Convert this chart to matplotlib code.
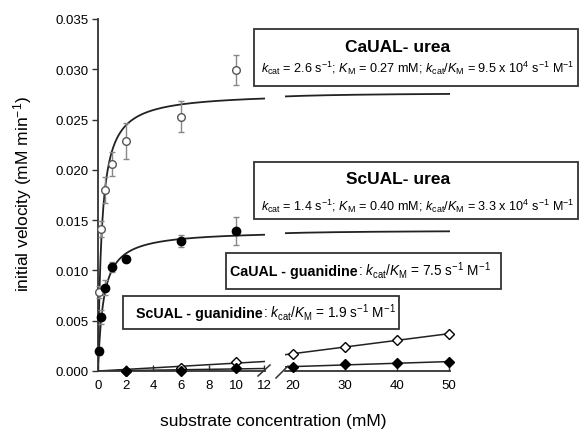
import numpy as np
import matplotlib
matplotlib.use('Agg')
import matplotlib.pyplot as plt
from matplotlib.patches import Rectangle
from matplotlib.ticker import FormatStrFormatter

plt.rcParams['font.family'] = ['Liberation Sans', 'DejaVu Sans']
plt.rcParams['mathtext.fontset'] = 'custom'
plt.rcParams['mathtext.rm'] = 'Liberation Sans'
plt.rcParams['mathtext.it'] = 'Liberation Sans:italic'
plt.rcParams['mathtext.bf'] = 'Liberation Sans:bold'

# ---------------- data ----------------
urea_x = [0.1, 0.25, 0.5, 1, 2, 6, 10]
ca_urea_v = [0.0079, 0.0141, 0.0180, 0.0206, 0.0229, 0.0253, 0.0299]
ca_urea_err = [0.0006, 0.0008, 0.0013, 0.0012, 0.0018, 0.0015, 0.0015]
sc_urea_v = [0.0020, 0.0054, 0.0083, 0.0103, 0.0111, 0.0129, 0.0139]
sc_urea_err = [0.0004, 0.0007, 0.0007, 0.0005, 0.0003, 0.0006, 0.0014]

# Michaelis-Menten fit parameters (Vmax in mM/min, Km in mM)
ca_urea_vmax, ca_urea_km = 0.0277, 0.27
sc_urea_vmax, sc_urea_km = 0.0140, 0.40

guan_x_low = [2, 6, 10]
guan_x_high = [20, 30, 40, 50]
ca_guan_low = [0.0000, 0.00033, 0.0009]
ca_guan_high = [0.00169, 0.00242, 0.00308, 0.00368]
sc_guan_low = [0.0000, 0.00003, 0.00027]
sc_guan_high = [0.00037, 0.00070, 0.00078, 0.00090]

x_ticks_low = [0, 2, 4, 6, 8, 10, 12]
x_ticks_high = [20, 30, 40, 50]
y_ticks = [0, 0.005, 0.010, 0.015, 0.020, 0.025, 0.030, 0.035]

# ---------------- figure ----------------
W, H = 582, 431
fig = plt.figure(figsize=(W / 100, H / 100), dpi=100)
fig.patch.set_facecolor('white')

top, bot = 20, 372
ax1 = fig.add_axes([98 / W, 1 - bot / H, (265 - 98) / W, (bot - top) / H])
ax2 = fig.add_axes([285 / W, 1 - bot / H, (450 - 285) / W, (bot - top) / H])

xlim1 = (0, 12.07)
xlim2 = (18.46, 50.19)
ylim = (0, 0.035)

line_c = '#222222'
open_c = '#555555'
err_c = '#888888'

# urea fit curves
for ax, lim in ((ax1, xlim1), (ax2, xlim2)):
    xs = np.linspace(lim[0], lim[1], 600)
    ax.plot(xs, ca_urea_vmax * xs / (ca_urea_km + xs), color=line_c, lw=1.3, zorder=2)
    ax.plot(xs, sc_urea_vmax * xs / (sc_urea_km + xs), color=line_c, lw=1.3, zorder=2)

# urea data
ax1.errorbar(urea_x, ca_urea_v, yerr=ca_urea_err, fmt='o', ms=5.5, mfc='white',
             mec=open_c, mew=1.0, ecolor=err_c, elinewidth=1.0, capsize=2.5,
             capthick=1.0, zorder=4, clip_on=False)
ax1.errorbar(urea_x, sc_urea_v, yerr=sc_urea_err, fmt='o', ms=6, mfc='black',
             mec='black', ecolor=err_c, elinewidth=1.0, capsize=2.5,
             capthick=1.0, zorder=4, clip_on=False)

# guanidine linear fits
xl = np.array(guan_x_low, dtype=float)
xh = np.array(guan_x_high, dtype=float)
for low, high, mfc in ((ca_guan_low, ca_guan_high, 'white'),
                       (sc_guan_low, sc_guan_high, 'black')):
    yl = np.array(low)
    slope0 = np.sum(xl * yl) / np.sum(xl * xl)
    xs = np.linspace(xlim1[0], xlim1[1], 50)
    ax1.plot(xs, slope0 * xs, color=line_c, lw=1.1, zorder=2)
    p = np.polyfit(xh, np.array(high), 1)
    xs2 = np.linspace(xlim2[0], xlim2[1], 50)
    ax2.plot(xs2, np.polyval(p, xs2), color=line_c, lw=1.1, zorder=2)
    ax1.plot(guan_x_low, low, 'D', ms=5, mfc=mfc, mec='black', mew=1.0,
             zorder=5, clip_on=False)
    ax2.plot(guan_x_high, high, 'D', ms=5, mfc=mfc, mec='black', mew=1.0,
             zorder=5, clip_on=False)

# axes styling
for ax in (ax1, ax2):
    ax.set_ylim(*ylim)
    ax.set_facecolor('none')
    for s in ('top', 'right'):
        ax.spines[s].set_visible(False)
    ax.spines['bottom'].set_color('#333333')
    ax.spines['bottom'].set_linewidth(1.3)
    ax.tick_params(axis='x', direction='in', length=4, width=1.0,
                   color='#333333', labelsize=9.5, pad=6)

ax1.set_xlim(*xlim1)
ax2.set_xlim(*xlim2)
ax1.set_xticks(x_ticks_low)
ax2.set_xticks(x_ticks_high)
ax1.set_yticks(y_ticks)
ax1.yaxis.set_major_formatter(FormatStrFormatter('%.3f'))
ax1.spines['left'].set_color('#333333')
ax1.spines['left'].set_linewidth(1.3)
ax1.tick_params(axis='y', direction='out', length=4.5, width=1.0,
                color='#333333', labelsize=9.5, pad=2)
ax2.spines['left'].set_visible(False)
ax2.set_yticks([])

# overlay in pixel coordinates for annotations
ov = fig.add_axes([0, 0, 1, 1], zorder=10)
ov.set_xlim(0, W)
ov.set_ylim(H, 0)
ov.axis('off')
ov.patch.set_alpha(0)

# axis break marks
ov.plot([258, 270], [377, 366], color='#333333', lw=1.1)
ov.plot([276, 288], [379, 367], color='#333333', lw=1.1)

box_kw = dict(fill=True, facecolor='white', edgecolor='#333333', lw=1.3)
ov.add_patch(Rectangle((254, 30), 324, 57, **box_kw))
ov.add_patch(Rectangle((254, 163), 324, 57, **box_kw))
ov.add_patch(Rectangle((226, 254), 275, 36, **box_kw))
ov.add_patch(Rectangle((123, 297), 276, 33, **box_kw))

kcat = r'$k_{\mathrm{cat}}$'
km = r'$K_{\mathrm{M}}$'
ov.text(398, 47, 'CaUAL- urea', fontsize=12.5, fontweight='bold',
        ha='center', va='center')
ov.text(418, 68, kcat + r' = 2.6 s$^{-1}$; ' + km + r' = 0.27 mM; ' + kcat + '/' + km +
        r' = 9.5 x 10$^{4}$ s$^{-1}$ M$^{-1}$', fontsize=9.1, ha='center', va='center')
ov.text(398, 180, 'ScUAL- urea', fontsize=12.5, fontweight='bold',
        ha='center', va='center')
ov.text(418, 206, kcat + r' = 1.4 s$^{-1}$; ' + km + r' = 0.40 mM; ' + kcat + '/' + km +
        r' = 3.3 x 10$^{4}$ s$^{-1}$ M$^{-1}$', fontsize=9.1, ha='center', va='center')

ov.text(358, 276, 'CaUAL - guanidine', fontsize=10.3, fontweight='bold',
        ha='right', va='baseline')
ov.text(358, 276, ': ' + kcat + '/' + km + r' = 7.5 s$^{-1}$ M$^{-1}$', fontsize=9.8,
        ha='left', va='baseline')
ov.text(263, 318, 'ScUAL - guanidine', fontsize=10.3, fontweight='bold',
        ha='right', va='baseline')
ov.text(263, 318, ': ' + kcat + '/' + km + r' = 1.9 s$^{-1}$ M$^{-1}$', fontsize=9.8,
        ha='left', va='baseline')

# axis labels
ov.text(23, 194, r'initial velocity (mM min$^{-1}$)', fontsize=12.5, rotation=90,
        ha='center', va='center')
ov.text(273, 422, 'substrate concentration (mM)', fontsize=12.5,
        ha='center', va='center')

fig.savefig('out.png', dpi=100)
